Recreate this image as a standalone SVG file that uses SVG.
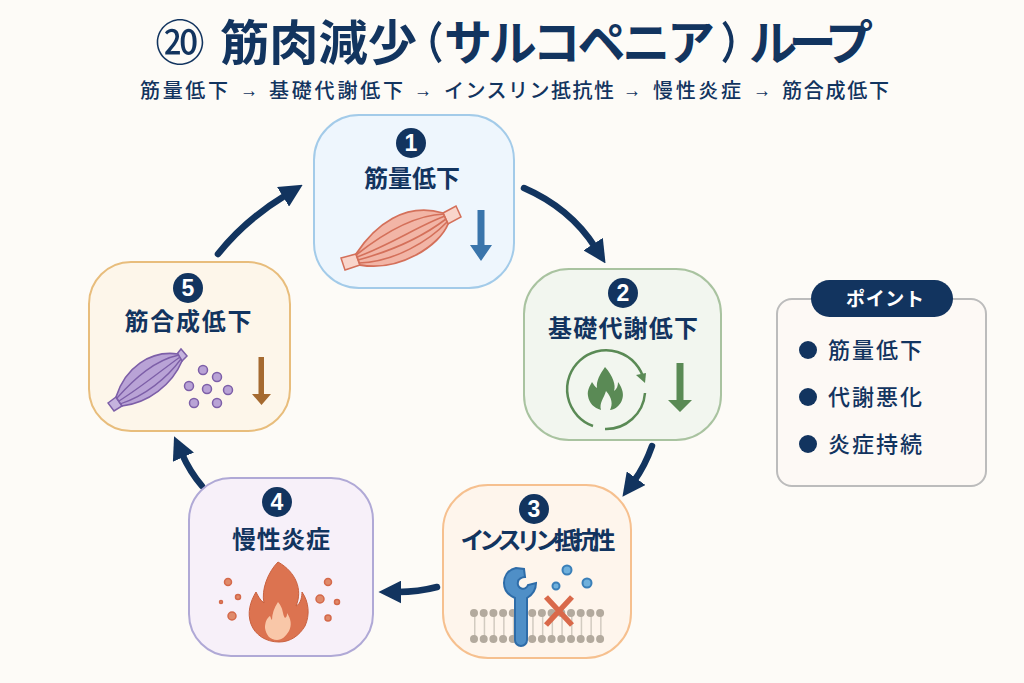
<svg xmlns="http://www.w3.org/2000/svg" width="1024" height="683" viewBox="0 0 1024 683">
<style>
text{font-family:"Noto Sans CJK JP","Noto Sans",sans-serif;fill:#12345f;font-weight:700}
.t{font-size:48px}
.s{font-size:20px;font-weight:500}
.a{font-family:"Liberation Sans",sans-serif;font-size:20px;font-weight:400}
.l{font-size:24px;text-anchor:middle}
.b{fill:#fff;font-family:"Liberation Sans",sans-serif;font-size:23px;text-anchor:middle}
.p{font-size:22px;font-weight:500}
.n{stroke-width:2}
.badge{fill:#12345f}
.c{fill:none;stroke:#12345f;stroke-width:6.5;stroke-linecap:round;marker-end:url(#h)}
.f{fill:none;stroke:#d4705a;stroke-width:1.6}
.g{fill:none;stroke:#7d5fa8;stroke-width:1.3}
</style>
<defs>
<marker id="h" viewBox="0 0 10 10" refX="1.5" refY="5" markerUnits="userSpaceOnUse" markerWidth="23" markerHeight="23" orient="auto"><path d="M0 0L10 5L0 10Z" fill="#12345f"/></marker>
</defs>
<rect width="1024" height="683" fill="#fdfbf7"/>
<g id="title">
<text class="t" x="155" y="60" font-size="50" textLength="50" lengthAdjust="spacingAndGlyphs" style="font-weight:400">⑳</text>
<text class="t" x="220" y="60" textLength="197" lengthAdjust="spacingAndGlyphs">筋肉減少</text>
<text class="t" x="444" y="60" textLength="271">サルコペニア</text>
<text class="t" x="749" y="60" textLength="124">ループ</text>
<path d="M440 22Q425 41 440 62M724 22Q739 41 724 62" fill="none" stroke="#12345f" stroke-width="4"/>
</g>
<g id="subtitle">
<text class="s" x="140" y="98" textLength="88">筋量低下</text>
<text class="a" x="240" y="97" textLength="18" lengthAdjust="spacingAndGlyphs">→</text>
<text class="s" x="269" y="98" textLength="134">基礎代謝低下</text>
<text class="a" x="414" y="97" textLength="18" lengthAdjust="spacingAndGlyphs">→</text>
<text class="s" x="444" y="98" textLength="170">インスリン抵抗性</text>
<text class="a" x="623" y="97" textLength="18" lengthAdjust="spacingAndGlyphs">→</text>
<text class="s" x="653" y="98" textLength="88">慢性炎症</text>
<text class="a" x="753" y="97" textLength="18" lengthAdjust="spacingAndGlyphs">→</text>
<text class="s" x="782" y="98" textLength="107">筋合成低下</text>
</g>
<g id="connectors">
<path class="c" d="M524 188Q570 208 595 247"/>
<path class="c" d="M652 446Q645 466 634 481"/>
<path class="c" d="M437 587Q418 592 398 592"/>
<path class="c" d="M202 486Q190 472 182 454"/>
<path class="c" d="M218 254Q245 220 286 195"/>
</g>
<g id="node1">
<rect class="n" x="314" y="115" width="200" height="173" rx="45" fill="#eef6fd" stroke="#a3cbe9"/>
<circle class="badge" cx="411" cy="143" r="15"/>
<text class="b" x="411" y="151">1</text>
<text class="l" x="412" y="187">筋量低下</text>
<path d="M341 258L356 254L360 265L345 270Z M443 213L456 206L461 217L448 224Z" fill="#f9d5cb" stroke="#d4705a" stroke-width="1.5"/>
<path d="M356 254C375 225 405 202 443 213L448 224C440 245 400 272 360 265Z" fill="#f2b5a6" stroke="#d4705a" stroke-width="1.8"/>
<path class="f" d="M356 255C385 232 415 215 444 214M357 257C390 245 420 225 445 216M358 260C395 250 425 235 446 219M359 263C395 262 430 240 447 222"/>
</g>
<path d="M477.500 210h7v35h7.500l-11 16-11-16h7.500z" fill="#3a75ab" id="node1-arrow"/>
<g id="node2">
<rect class="n" x="524" y="269" width="197" height="171" rx="45" fill="#f2f6ef" stroke="#a9c3a0"/>
<circle class="badge" cx="623" cy="293" r="15"/>
<text class="b" x="623" y="301">2</text>
<text class="l" x="623" y="337" textLength="150">基礎代謝低下</text>
<path d="M593 426A39 39 0 1 1 644 380M605 429A39 39 0 0 0 645 393" fill="none" stroke="#5a8a55" stroke-width="2.5"/>
<path d="M636 375L646 373L645 383Z" fill="#5a8a55"/>
<path d="M605 367C613 376 616 385 614 391C617 389 618 386 618 382C623 389 624 395 622 400C620 406 614 410 610 410C613 404 612 398 606 391C604 398 599 403 601 410C594 408 589 403 588 396C587 390 590 386 592 382C594 385 595 387 597 388C596 381 600 374 605 367Z" fill="#5a8a55"/>
<path d="M676.500 363h7v37h8.500l-12 12-12-12h8.500z" fill="#5a8a55"/>
</g>
<g id="node3">
<rect class="n" x="443" y="485" width="188" height="173" rx="45" fill="#fef5ec" stroke="#f6c08f"/>
<circle class="badge" cx="534" cy="509" r="15"/>
<text class="b" x="534" y="517">3</text>
<text class="l" x="538" y="549" textLength="155">インスリン抵抗性</text>
<line x1="474" y1="626" x2="602" y2="626" stroke="#d2cbc0" stroke-width="20" stroke-dasharray="1.500 8.200"/>
<line x1="474" y1="613" x2="604" y2="613" stroke="#b3aa9e" stroke-width="8" stroke-linecap="round" stroke-dasharray="0 9.700"/>
<line x1="474" y1="639" x2="604" y2="639" stroke="#b3aa9e" stroke-width="8" stroke-linecap="round" stroke-dasharray="0 9.700"/>
<path d="M516 568C507 570 504 577 504 583C504 590 508 595 515 598L515 640A6 6 0 0 0 527 640L527 598C532 595 536 590 536 583L528 585A5 5 0 0 1 518 582C518 579 522 577 525 577L524 569Z" fill="#4f8fc7" stroke="#2e6ca8" stroke-width="2"/>
<path d="M546 597L572 625M572 597L546 625" stroke="#d9694a" stroke-width="5.500" fill="none"/>
<circle cx="567" cy="570" r="4.500" fill="#6fb0dc" stroke="#3a7fb8" stroke-width="2"/>
<circle cx="587" cy="583" r="4.500" fill="#6fb0dc" stroke="#3a7fb8" stroke-width="2"/>
<circle cx="556" cy="586" r="3.500" fill="#6fb0dc" stroke="#3a7fb8" stroke-width="2"/>
</g>
<g id="node4">
<rect class="n" x="189" y="478" width="184" height="178" rx="42" fill="#f7f0f9" stroke="#b0a9d6"/>
<circle class="badge" cx="277" cy="502" r="15"/>
<text class="b" x="277" y="510">4</text>
<text class="l" x="281" y="548" textLength="98">慢性炎症</text>
<path d="M278 562C296 572 303 590 296 606C301 604 302 596 302 592C309 602 310 615 305 626C299 636 290 642 279 642C266 642 255 635 251 624C247 613 250 602 256 592C258 596 260 600 264 603C261 590 268 572 278 562Z" fill="#dc7350" stroke="#c9613f"/>
<path d="M278 602C284 609 282 614 285 618C287 617 287 615 287 613C291 619 292 625 289 631C286 636 282 640 277 640C270 640 266 635 265 628C265 622 267 618 270 616C271 618 271 619 272 620C272 614 274 608 278 602Z" fill="#f9c7a8"/>
<g fill="#e08a6a" stroke="#d4694a" stroke-width="1.500">
<circle cx="228" cy="582" r="3.500"/><circle cx="238" cy="597" r="2.500"/><circle cx="221" cy="602" r="1.500"/><circle cx="232" cy="616" r="4"/>
<circle cx="328" cy="582" r="3.500"/><circle cx="320" cy="599" r="4"/><circle cx="337" cy="602" r="2.500"/><circle cx="328" cy="618" r="3"/>
</g>
</g>
<g id="node5">
<rect class="n" x="89" y="262" width="201" height="169" rx="42" fill="#fdf6ea" stroke="#e8bd7c"/>
<circle class="badge" cx="188" cy="288" r="15"/>
<text class="b" x="188" y="296">5</text>
<text class="l" x="188" y="330" textLength="127">筋合成低下</text>
<path d="M108 403L116 397L122 406L114 411Z M177 354L181 349L187 356L182 361Z" fill="#c5b3de" stroke="#7d5fa8" stroke-width="1.500"/>
<path d="M116 397C125 368 150 350 178 354L182 361C172 385 148 403 122 406Z" fill="#b9a3d6" stroke="#7d5fa8" stroke-width="1.600"/>
<path class="g" d="M117 398C135 378 155 360 179 355M119 401C140 388 162 370 180 357M120 404C145 396 167 378 181 359"/>
<g fill="#b9a3d6" stroke="#7d5fa8" stroke-width="1.500">
<circle cx="203" cy="370" r="4.500"/><circle cx="217" cy="377" r="4.500"/><circle cx="189" cy="386" r="4.500"/><circle cx="207" cy="389" r="4.500"/><circle cx="228" cy="390" r="4.500"/><circle cx="194" cy="403" r="4.500"/><circle cx="217" cy="403" r="4.500"/>
</g>
<path d="M258.500 357h5.500v37h7l-9.500 11-9.500-11h6.500z" fill="#a56a30"/>
</g>
<g id="panel">
<rect x="777" y="299" width="209" height="187" rx="15" fill="#fdf9f5" stroke="#bcbcbc" stroke-width="2"/>
<rect x="811" y="280" width="142" height="37" rx="18.500" fill="#12345f"/>
<text x="885" y="306" style="fill:#fff;font-size:19px;text-anchor:middle" textLength="78">ポイント</text>
<circle cx="808" cy="350" r="9" fill="#12345f"/><text class="p" x="828" y="358" textLength="94">筋量低下</text>
<circle cx="808" cy="397" r="9" fill="#12345f"/><text class="p" x="828" y="405" textLength="94">代謝悪化</text>
<circle cx="808" cy="444" r="9" fill="#12345f"/><text class="p" x="828" y="452" textLength="94">炎症持続</text>
</g>
</svg>
